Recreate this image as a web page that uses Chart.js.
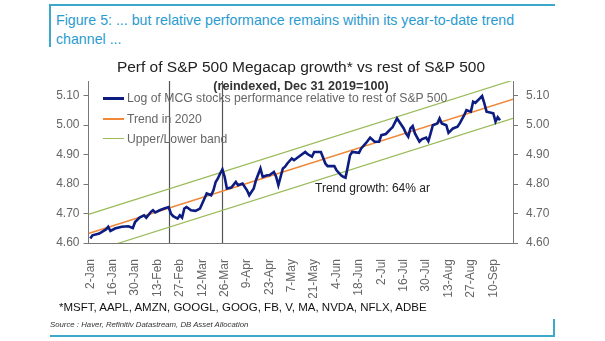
<!DOCTYPE html>
<html>
<head>
<meta charset="utf-8">
<script src="https://cdn.jsdelivr.net/npm/chart.js@4.4.1/dist/chart.umd.min.js"></script>
<style>
  html, body { margin:0; padding:0; background:#fff; }
  body { width:605px; height:341px; position:relative; overflow:hidden; font-family:"Liberation Sans", Arial, sans-serif; }
  .abs { position:absolute; white-space:nowrap; }
  .rule { position:absolute; background:#3ca8cb; }
  #wrap { position:absolute; left:0; top:0; width:605px; height:341px; }
  .caption { left:56px; top:11px; font-size:14.2px; line-height:19px; color:#2a9bd1; }
  .title { left:0; width:602px; top:58px; text-align:center; font-size:15.5px; line-height:18px; color:#222; }
  .subtitle { left:0; width:602px; top:78px; text-align:center; font-size:12.6px; font-weight:bold; line-height:16px; color:#333; }
  .leg { left:127px; font-size:12.2px; line-height:14px; color:#666; }
  .swatch { position:absolute; left:103px; width:21px; }
  .note { left:315px; top:181px; font-size:12px; line-height:14px; color:#222; }
  .foot { left:59px; top:299px; font-size:11.5px; line-height:16px; color:#111; }
  .src { left:50px; top:319px; font-size:7.8px; line-height:12px; font-style:italic; color:#333; }
</style>
</head>
<body>
<!-- frame round the figure -->
<div class="rule" style="left:49px;top:4px;width:506px;height:2px"></div>
<div class="rule" style="left:49px;top:4px;width:2px;height:43px"></div>
<div class="rule" style="left:50px;top:335px;width:505px;height:2px"></div>
<div class="rule" style="left:553px;top:319px;width:2px;height:18px"></div>

<div class="abs caption">Figure 5: ... but relative performance remains within its year-to-date trend<br>channel ...</div>

<div id="wrap"><canvas id="relChart"></canvas></div>

<div class="abs title">Perf of S&amp;P 500 Megacap growth* vs rest of S&amp;P 500</div>
<div class="abs subtitle">(reindexed, Dec 31 2019=100)</div>

<!-- legend sits inside the plot -->
<div class="swatch" style="top:97px;height:3px;background:#0c1c80"></div>
<div class="abs leg" style="top:91px">Log of MCG stocks performance relative to rest of S&amp;P 500</div>
<div class="swatch" style="top:118px;height:2px;background:#f0883a"></div>
<div class="abs leg" style="top:112px">Trend in 2020</div>
<div class="swatch" style="top:138px;height:1px;background:#9bbb59"></div>
<div class="abs leg" style="top:132px">Upper/Lower band</div>

<div class="abs note">Trend growth: 64% ar</div>
<div class="abs foot">*MSFT, AAPL, AMZN, GOOGL, GOOG, FB, V, MA, NVDA, NFLX, ADBE</div>
<div class="abs src">Source : Haver, Refinitiv Datastream, DB Asset Allocation</div>

<script>
// x axis counts trading days from 2 Jan 2020
const tickDays = [0, 10, 20, 30, 40, 50, 60, 70, 80, 90, 100, 110, 120, 130, 140, 150, 160, 170, 180];
const tickLabels = ['2-Jan','16-Jan','30-Jan','13-Feb','27-Feb','12-Mar','26-Mar','9-Apr','23-Apr','7-May',
  '21-May','4-Jun','18-Jun','2-Jul','16-Jul','30-Jul','13-Aug','27-Aug','10-Sep'];
const yTicks = [4.6, 4.7, 4.8, 4.9, 5.0, 5.1];

// log of MCG relative performance
const mcgDays = [0,1,4,7,8,9,11,14,17,19,20,22,24,25,27,28,29,31,33,35,36,37,39,40,41,42,43,45,47,49,
  50,51,52,54,55,56,57,58,59,60,61,63,65,66,68,70,71,73,74,76,77,79,80,82,83,84,86,87,88,90,
  91,94,96,97,99,100,103,105,106,109,110,112,113,114,115,116,117,120,121,123,125,127,129,130,132,134,135,137,138,140,
  141,142,143,144,145,147,148,150,151,152,153,155,156,157,159,160,162,164,165,167,168,170,171,172,174,175,176,177,179,180,
  181,182,183];
const mcgVals = [4.615,4.626,4.632,4.646,4.655,4.641,4.649,4.655,4.657,4.651,4.671,4.686,4.694,4.686,4.705,4.711,4.704,4.711,4.717,4.722,
  4.700,4.691,4.683,4.694,4.686,4.717,4.722,4.711,4.709,4.717,
  4.734,4.751,4.768,4.762,4.779,4.807,4.819,4.836,4.850,4.825,4.785,4.788,4.807,4.796,4.802,4.779,4.762,4.785,4.813,4.853,
  4.825,4.830,4.830,4.841,4.825,4.796,4.853,4.859,4.870,4.887,
  4.881,4.898,4.909,4.902,4.893,4.909,4.909,4.870,4.861,4.861,4.847,4.830,4.825,4.822,4.859,4.898,4.909,4.906,4.921,4.938,
  4.958,4.944,4.944,4.966,4.970,4.986,4.993,5.023,5.012,4.989,
  4.972,4.961,4.989,4.997,4.972,4.944,4.952,4.958,4.946,4.972,5.000,5.006,5.023,5.006,5.000,4.974,4.989,4.995,5.006,5.034,
  5.051,5.046,5.080,5.076,5.091,5.099,5.074,5.046,5.042,5.040,
  5.012,5.027,5.017];

// 2020 trend and its channel, end points at the axis edges
const trendDays = [-0.8, 188.8];
const trendVals = [4.632, 5.088];
const upperVals = [4.697, 5.153];
const lowerVals = [4.567, 5.023];

// dates marked with vertical rules (19 Feb, 23 Mar)
const markDays = [35, 59];

const pts = (xs, ys) => xs.map((x, i) => ({ x, y: ys[i] }));

// vertical marker lines drawn behind the series
const markerLines = {
  id: 'markerLines',
  beforeDatasetsDraw(chart) {
    const { ctx, chartArea, scales } = chart;
    ctx.save();
    ctx.strokeStyle = '#555';
    ctx.lineWidth = 1.2;
    markDays.forEach(d => {
      const x = Math.round(scales.x.getPixelForValue(d)) + 0.5;
      ctx.beginPath();
      ctx.moveTo(x, chartArea.top);
      ctx.lineTo(x, chartArea.bottom);
      ctx.stroke();
    });
    ctx.restore();
  }
};

(() => {
  const ctx = document.getElementById('relChart').getContext('2d');
  const yAxis = (pos) => ({
    type: 'linear', position: pos, min: 4.6, max: 5.15,
    afterBuildTicks: s => { s.ticks = yTicks.map(v => ({ value: v })); },
    afterFit: s => { s.width = pos === 'left' ? 45 : 40; },
    ticks: { color: '#666', font: { size: 12 }, padding: pos === 'left' ? 4 : 8, callback: v => v.toFixed(2) },
    grid: { drawOnChartArea: false, drawTicks: true, tickLength: 5, color: '#777' },
    border: { color: '#777', width: 1 }
  });

  new Chart(ctx, {
    type: 'line',
    data: {
      datasets: [
        { data: pts(mcgDays, mcgVals), borderColor: '#0c1c80', borderWidth: 2.6 },
        { data: pts(trendDays, trendVals), borderColor: '#f0883a', borderWidth: 1.6 },
        { data: pts(trendDays, upperVals), borderColor: '#9bbb59', borderWidth: 1.2 },
        { data: pts(trendDays, lowerVals), borderColor: '#9bbb59', borderWidth: 1.2 }
      ]
    },
    options: {
      responsive: true,
      maintainAspectRatio: false,
      animation: false,
      elements: { point: { radius: 0 }, line: { tension: 0 } },
      layout: { padding: { left: 43.5, right: 52, top: 81, bottom: 43 } },
      plugins: { legend: { display: false }, tooltip: { enabled: false } },
      scales: {
        x: {
          type: 'linear', min: -0.8, max: 188.8,
          afterBuildTicks: s => { s.ticks = tickDays.map(v => ({ value: v })); },
          afterFit: s => { s.height = 55; },
          ticks: {
            autoSkip: false, minRotation: 90, maxRotation: 90, padding: 8,
            color: '#666', font: { size: 12 },
            callback: v => tickLabels[tickDays.indexOf(v)]
          },
          grid: { display: false },
          border: { color: '#777', width: 1 }
        },
        y: yAxis('left'),
        y2: yAxis('right')
      }
    },
    plugins: [markerLines]
  });
})();
</script>
</body>
</html>
